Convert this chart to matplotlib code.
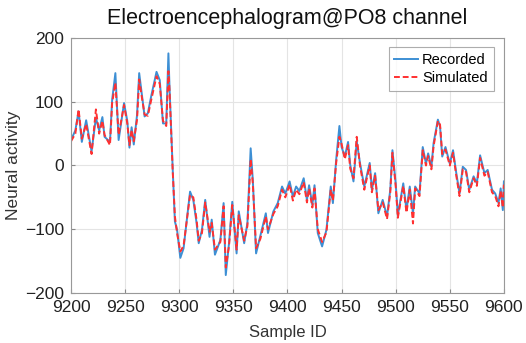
import matplotlib
matplotlib.use("Agg")
import matplotlib.pyplot as plt

plt.rcParams['font.family'] = ['Liberation Sans', 'DejaVu Sans']

sample_ids = [9200, 9204, 9207, 9210, 9214, 9219, 9223, 9226, 9229, 9231, 9236, 9238, 9241,
              9244, 9249, 9252, 9254, 9256, 9258, 9261, 9263, 9265, 9268, 9271, 9274, 9279,
              9282, 9285, 9288, 9290, 9291, 9294, 9296, 9298, 9301, 9304, 9310, 9313, 9316,
              9318, 9321, 9324, 9328, 9330, 9333, 9338, 9341, 9343, 9346, 9349, 9353, 9355,
              9360, 9363, 9366, 9368, 9371, 9375, 9380, 9382, 9387, 9391, 9395, 9398, 9402,
              9405, 9408, 9411, 9415, 9418, 9420, 9423, 9425, 9428, 9432, 9436, 9440, 9442,
              9445, 9448, 9450, 9453, 9456, 9458, 9461, 9464, 9467, 9471, 9476, 9478, 9481,
              9484, 9488, 9492, 9495, 9497, 9500, 9502, 9507, 9510, 9513, 9516, 9518, 9522,
              9525, 9528, 9530, 9533, 9535, 9539, 9541, 9543, 9546, 9550, 9553, 9556, 9559,
              9562, 9565, 9568, 9572, 9575, 9578, 9582, 9585, 9589, 9592, 9595, 9597, 9599, 9600]

recorded = [40, 55, 85, 37, 71, 22, 75, 55, 76, 45, 37, 103, 145,
            40, 98, 70, 28, 60, 33, 79, 145, 118, 77, 82, 108, 147,
            134, 66, 66, 176, 124, -7, -88, -101, -145, -130, -41, -54, -90,
            -122, -101, -54, -112, -85, -140, -117, -59, -172, -122, -57, -138, -72,
            -122, -90, 27, -23, -138, -110, -75, -106, -72, -59, -33, -44, -25,
            -49, -33, -40, -20, -54, -31, -62, -31, -106, -127, -101, -33, -59,
            9, 62, 29, 14, 37, 1, -25, 38, 4, -33, 4, -38, -12,
            -75, -54, -80, -38, 24, -28, -78, -28, -70, -33, -75, -33, -44,
            29, 3, 19, -2, 35, 72, 61, 14, 29, 3, 24, -12, -44,
            -2, -7, -38, -17, -28, 16, -12, -7, -38, -44, -59, -36, -70, -25]

simulated = [38, 50, 88, 42, 65, 18, 88, 50, 70, 48, 32, 98, 130,
             48, 95, 66, 32, 56, 38, 72, 135, 112, 80, 78, 102, 140,
             128, 70, 62, 148, 120, -10, -80, -106, -135, -126, -46, -50, -85,
             -118, -106, -58, -104, -90, -132, -120, -64, -160, -126, -62, -132, -78,
             -118, -95, 10, -28, -130, -115, -80, -100, -76, -64, -38, -50, -30,
             -55, -38, -45, -26, -58, -36, -66, -36, -100, -120, -105, -38, -55,
             4, 45, 34, 10, 32, -5, -20, 45, 0, -38, 0, -42, -16,
             -70, -58, -84, -42, 20, -32, -82, -32, -74, -38, -91, -36, -48,
             24, 0, 15, -6, 30, 70, 64, 18, 25, 0, 20, -16, -48,
             -6, -10, -42, -20, -32, 12, -16, -10, -42, -48, -64, -40, -66, -30]

x_ticks = [9200, 9250, 9300, 9350, 9400, 9450, 9500, 9550, 9600]
y_ticks = [-200, -100, 0, 100, 200]

fig = plt.figure(figsize=(5.26, 3.43), dpi=100)
ax = fig.add_axes([0.135, 0.146, 0.823, 0.743])

ax.plot(sample_ids, recorded, color='#3d8fd4', lw=1.4, label='Recorded')
ax.plot(sample_ids, simulated, color='#ff3030', lw=1.4, ls='--', label='Simulated', dashes=(3, 1.5))

ax.set_xlim(9200, 9600)
ax.set_ylim(-200, 200)
ax.set_xticks(x_ticks)
ax.set_yticks(y_ticks)
ax.tick_params(direction='in', labelsize=12.5, length=3, color='#888888', labelcolor='#222222')
ax.tick_params(axis='x', pad=5)
ax.tick_params(axis='y', pad=5)
ax.grid(True, color='#e4e4e4', lw=0.8)
ax.set_axisbelow(True)
for sp in ax.spines.values():
    sp.set_color('#999999')
    sp.set_linewidth(0.8)

ax.set_title('Electroencephalogram@PO8 channel', fontsize=15.5, color='#111111', pad=10)
ax.set_xlabel('Sample ID', fontsize=12, color='#333333', labelpad=7)
ax.set_ylabel('Neural activity', fontsize=12.5, color='#333333', labelpad=3)

leg = ax.legend(loc='upper right', fontsize=10.5, frameon=True, fancybox=False,
                edgecolor='#999999', handlelength=1.6, borderpad=0.4,
                handletextpad=0.3, labelspacing=0.3, bbox_to_anchor=(0.993, 0.993))
leg.get_frame().set_linewidth(0.8)

fig.savefig('out.png', dpi=100)
